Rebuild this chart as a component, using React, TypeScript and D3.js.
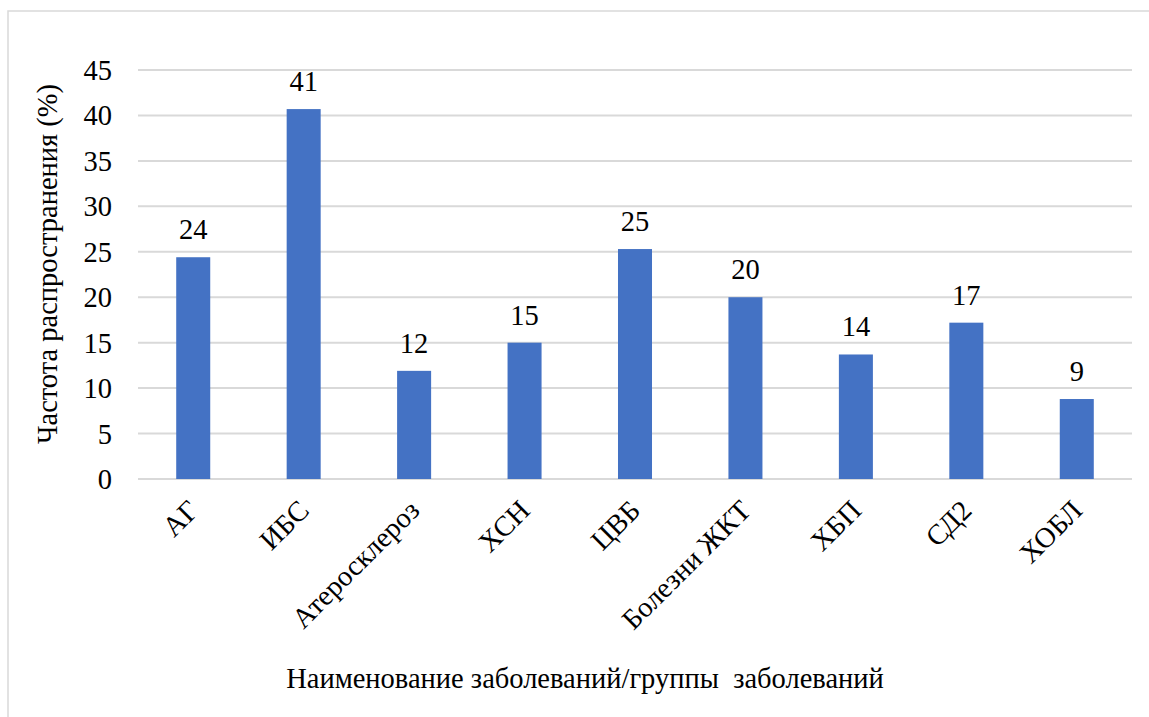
import React from "react";
import * as d3 from "d3";

// Prevalence of diseases / disease groups, %
const categories: string[] = [
  "АГ",
  "ИБС",
  "Атеросклероз",
  "ХСН",
  "ЦВБ",
  "Болезни ЖКТ",
  "ХБП",
  "СД2",
  "ХОБЛ",
];
const prevalence: number[] = [24.4, 40.7, 11.9, 15.0, 25.3, 20.0, 13.7, 17.2, 8.8];
const yTicks: number[] = [0, 5, 10, 15, 20, 25, 30, 35, 40, 45];
const yTitle = "Частота распространения (%)";
const xTitle = "Наименование заболеваний/группы\u00a0\u00a0заболеваний";

const W = 1149;
const H = 717;
const FONT =
  '"Liberation Serif", Tinos, "Noto Serif", "DejaVu Serif", "Times New Roman", Times, serif';
const BAR = "#4472C4";
const GRID = "#D9D9D9";

const txt: React.CSSProperties = { fontFamily: FONT, fontSize: 28.5, fill: "#000" };

export default function App() {
  const plot = { left: 138, right: 1132, top: 70, bottom: 479 };

  const x = d3
    .scaleBand<string>()
    .domain(categories)
    .range([plot.left, plot.right])
    .paddingInner(0.692)
    .paddingOuter(0.346);

  const y = d3.scaleLinear().domain([0, 45]).range([plot.bottom, plot.top]);
  const fmt = d3.format(".0f");

  return (
    <svg
      width={W}
      height={H}
      style={{ position: "absolute", left: 0, top: 0, background: "#fff" }}
    >
      {/* chart frame */}
      <rect x={8} y={11} width={W + 20} height={H + 20} fill="#fff" stroke={GRID} strokeWidth={1.5} />

      {/* gridlines and y tick labels */}
      {yTicks.map((t) => (
        <g key={t}>
          <line x1={plot.left} x2={plot.right} y1={y(t)} y2={y(t)} stroke={GRID} strokeWidth={2} />
          <text x={112} y={y(t)} dy="0.35em" textAnchor="end" style={txt}>
            {t}
          </text>
        </g>
      ))}

      {/* bars */}
      {categories.map((c, i) => (
        <rect
          key={c}
          x={x(c)}
          y={y(prevalence[i])}
          width={x.bandwidth()}
          height={y(0) - y(prevalence[i])}
          fill={BAR}
        />
      ))}

      {/* value labels */}
      {categories.map((c, i) => (
        <text
          key={c}
          x={(x(c) ?? 0) + x.bandwidth() / 2}
          y={y(prevalence[i]) - 18}
          textAnchor="middle"
          style={txt}
        >
          {fmt(prevalence[i])}
        </text>
      ))}

      {/* category labels */}
      {categories.map((c) => {
        const cx = (x(c) ?? 0) + x.bandwidth() / 2;
        return (
          <text
            key={c}
            transform={`translate(${cx - 7},${plot.bottom + 19}) rotate(-45)`}
            textAnchor="end"
            dy="0.7em"
            style={txt}
          >
            {c}
          </text>
        );
      })}

      {/* axis titles */}
      <text transform={`translate(57,264) rotate(-90)`} textAnchor="middle" style={txt}>
        {yTitle}
      </text>
      <text x={585} y={688} textAnchor="middle" style={txt}>
        {xTitle}
      </text>
    </svg>
  );
}
